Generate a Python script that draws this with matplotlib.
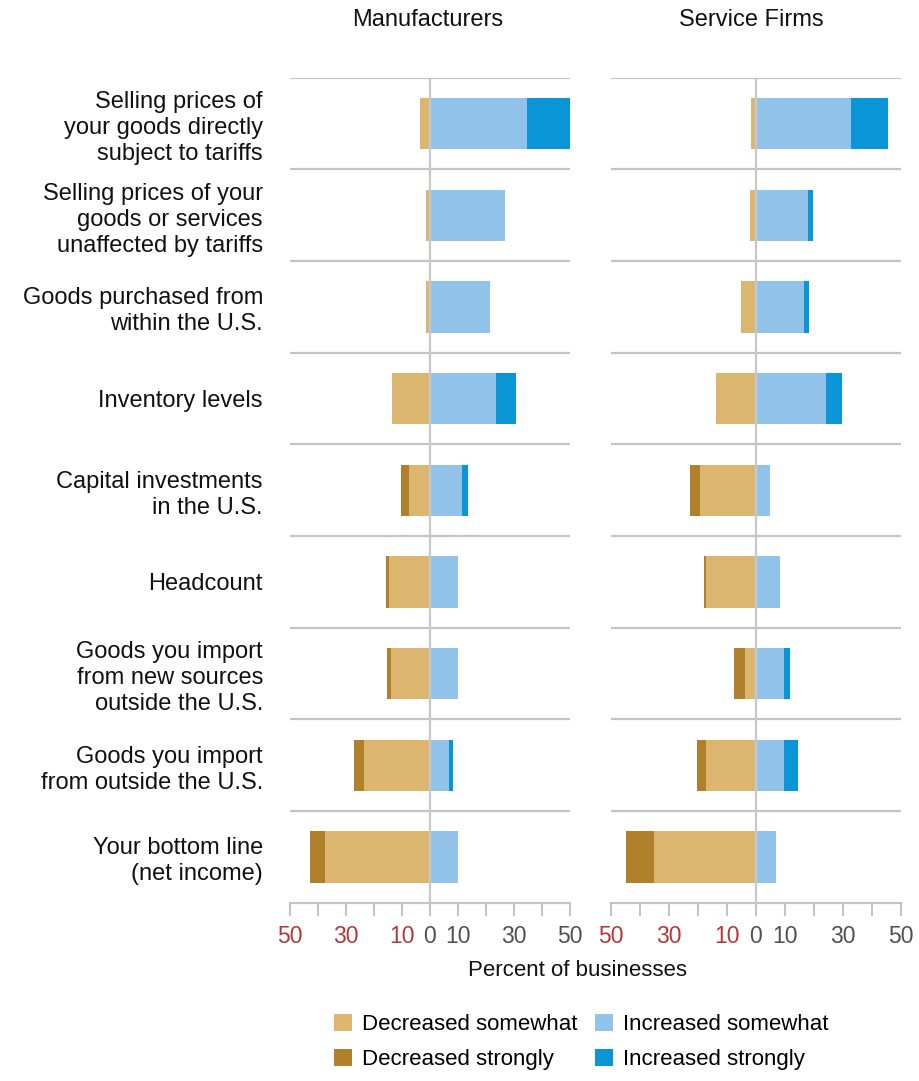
import matplotlib
matplotlib.use("Agg")
import matplotlib.pyplot as plt
from matplotlib.patches import Patch
import numpy as np

plt.rcParams['font.family'] = ['Liberation Sans', 'DejaVu Sans']

categories = [
    "Selling prices of\nyour goods directly\nsubject to tariffs",
    "Selling prices of your\ngoods or services\nunaffected by tariffs",
    "Goods purchased from\nwithin the U.S.",
    "Inventory levels",
    "Capital investments\nin the U.S.",
    "Headcount",
    "Goods you import\nfrom new sources\noutside the U.S.",
    "Goods you import\nfrom outside the U.S.",
    "Your bottom line\n(net income)",
]

# Manufacturers
mfg_dec_strong = [0.0, 0.0, 0.0, 0.0, 2.7, 1.0, 1.4, 3.7, 5.3]
mfg_dec_some   = [3.6, 1.4, 1.4, 13.7, 7.6, 14.6, 14.1, 23.5, 37.4]
mfg_inc_some   = [34.6, 26.9, 21.3, 23.7, 11.3, 9.9, 9.9, 6.9, 9.9]
mfg_inc_strong = [15.4, 0.0, 0.0, 7.0, 2.1, 0.0, 0.0, 1.4, 0.0]

# Service firms
svc_dec_strong = [0.0, 0.0, 0.0, 0.0, 3.7, 0.7, 3.6, 3.1, 9.7]
svc_dec_some   = [1.7, 2.2, 5.2, 13.7, 19.2, 17.4, 3.9, 17.4, 35.3]
svc_inc_some   = [32.6, 17.8, 16.7, 24.2, 4.8, 8.3, 9.8, 9.8, 6.8]
svc_inc_strong = [12.8, 1.8, 1.5, 5.4, 0.0, 0.0, 2.0, 4.6, 0.0]

panel_titles = ["Manufacturers", "Service Firms"]
xticks = [-50, -40, -30, -20, -10, 0, 10, 20, 30, 40, 50]
xticklabels = ["50", "", "30", "", "10", "0", "10", "", "30", "", "50"]
legend_labels = ["Decreased somewhat", "Increased somewhat",
                 "Decreased strongly", "Increased strongly"]

C_DEC_SOME = "#dcb56f"
C_DEC_STRONG = "#b0802b"
C_INC_SOME = "#91c3ea"
C_INC_STRONG = "#0a96d6"
GRID = "#c4c4c4"
RED = "#b5373a"
GRAY_TXT = "#505050"

W, H = 920, 1081
fig = plt.figure(figsize=(W / 100, H / 100), dpi=100)

top_px, bot_px = 77.7, 902.7
panels_px = [(290, 570), (611, 901)]
axes = []
for (x0, x1) in panels_px:
    ax = fig.add_axes([x0 / W, 1 - bot_px / H, (x1 - x0) / W, (bot_px - top_px) / H])
    axes.append(ax)

data = [
    (mfg_dec_strong, mfg_dec_some, mfg_inc_some, mfg_inc_strong),
    (svc_dec_strong, svc_dec_some, svc_inc_some, svc_inc_strong),
]

n = len(categories)
y = np.arange(n) + 0.5
bh = 0.56

for i, ax in enumerate(axes):
    ds, dsm, ism, ist = [np.array(a) for a in data[i]]
    ax.barh(y, -dsm, height=bh, color=C_DEC_SOME, zorder=3)
    ax.barh(y, -ds, left=-dsm, height=bh, color=C_DEC_STRONG, zorder=3)
    ax.barh(y, ism, height=bh, color=C_INC_SOME, zorder=3)
    ax.barh(y, ist, left=ism, height=bh, color=C_INC_STRONG, zorder=3)

    ax.set_xlim(-50, 50)
    ax.set_ylim(n, 0)
    for b in range(n):
        ax.axhline(b, color=GRID, lw=1.6, zorder=1)
    ax.axvline(0, color="#c8c8c8", lw=1.6, zorder=4)

    for s in ["top", "right", "left"]:
        ax.spines[s].set_visible(False)
    ax.spines["bottom"].set_color(GRID)
    ax.spines["bottom"].set_linewidth(1.6)

    ax.set_xticks(xticks)
    ax.set_xticklabels(xticklabels, fontsize=16.5)
    ax.tick_params(axis="x", length=9, width=1.5, color=GRID, pad=7)
    for t, v in zip(ax.get_xticklabels(), xticks):
        t.set_color(RED if v < 0 else GRAY_TXT)

    if i == 0:
        ax.set_yticks(y)
        ax.set_yticklabels(categories, fontsize=17, color="#111111",
                           linespacing=1.24)
        ax.tick_params(axis="y", length=0, pad=19.5)
    else:
        ax.set_yticks([])

fig.text(428 / W, 1 - 20 / H, panel_titles[0], ha="center", va="center",
         fontsize=17, color="#111111")
fig.text(751 / W, 1 - 20 / H, panel_titles[1], ha="center", va="center",
         fontsize=17, color="#111111")

fig.text(578 / W, 1 - 971 / H, "Percent of businesses", ha="center",
         va="center", fontsize=16, color="#111111")

handles = [Patch(facecolor=C_DEC_SOME), Patch(facecolor=C_INC_SOME),
           Patch(facecolor=C_DEC_STRONG), Patch(facecolor=C_INC_STRONG)]
order = [0, 2, 1, 3]
leg = fig.legend([handles[k] for k in order], [legend_labels[k] for k in order],
                 ncol=2, loc="center", bbox_to_anchor=(581 / W, 1 - 1042 / H),
                 frameon=False, fontsize=16, handlelength=0.8, handleheight=0.8,
                 handletextpad=0.45, columnspacing=0.8, labelspacing=0.6,
                 borderpad=0, borderaxespad=0)

fig.savefig("out.png", dpi=100, facecolor="white")
